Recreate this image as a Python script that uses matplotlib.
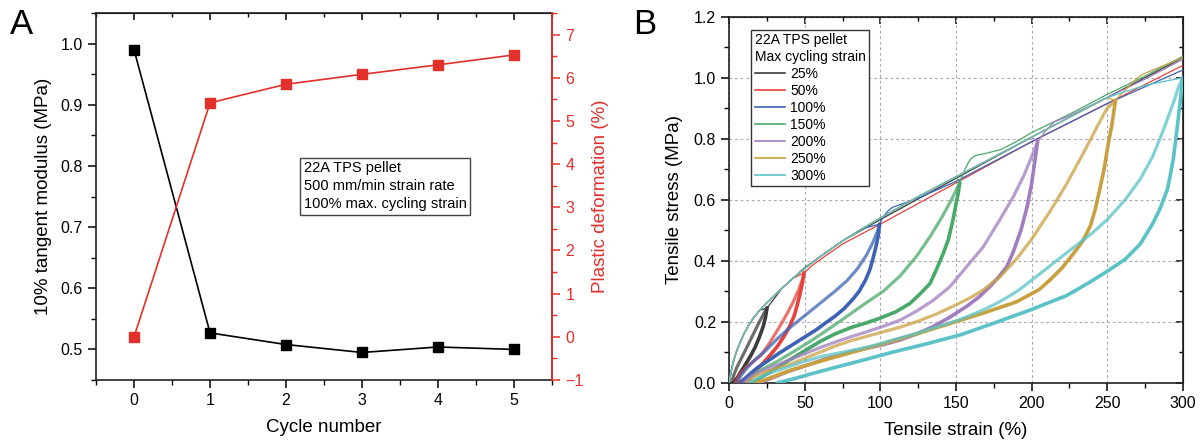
import matplotlib
matplotlib.use("Agg")
import matplotlib.pyplot as plt
from matplotlib.lines import Line2D
from matplotlib.ticker import MultipleLocator, FormatStrFormatter

plt.rcParams['font.family'] = ['Liberation Sans', 'DejaVu Sans']

# ---------------- Panel A data ----------------
cycles = [0, 1, 2, 3, 4, 5]
modulus = [0.99, 0.527, 0.508, 0.495, 0.504, 0.500]
plastic = [0.0, 5.42, 5.85, 6.08, 6.30, 6.53]

# ---------------- Panel B data ----------------
levels = ['25%', '50%', '100%', '150%', '200%', '250%', '300%']
colors = ['#3c3c3c', '#e5443d', '#3e63b5', '#4aa96a', '#a07dc0', '#c9a040', '#5bc2c7']

# shared virgin loading envelope
env_strain = [0, 1, 2, 3, 5, 7, 10, 13, 16, 20, 25, 30, 35, 42, 50, 60, 75, 88, 100, 125, 150,
              175, 200, 225, 250, 275, 300]
env_stress = [0, 0.03, 0.055, 0.075, 0.105, 0.13, 0.163, 0.19, 0.212, 0.237, 0.263, 0.287, 0.31,
              0.342, 0.375, 0.413, 0.465, 0.505, 0.54, 0.61, 0.675, 0.74, 0.805, 0.87, 0.935,
              0.975, 1.0]

peak_strain = [25, 49.5, 99.5, 152.5, 204, 255.5, 300]
peak_stress = [0.245, 0.36, 0.52, 0.655, 0.79, 0.925, 1.0]

# unloading curves (lower, dense bundle)
unload_25_s = [25, 24, 22.5, 20, 17, 14, 11, 8, 5.5, 3]
unload_25_y = [0.245, 0.215, 0.185, 0.15, 0.115, 0.087, 0.062, 0.038, 0.018, 0]
unload_50_s = [49.5, 48.5, 47, 45, 43, 40, 36, 32, 27, 21, 16, 11, 8, 6]
unload_50_y = [0.36, 0.33, 0.295, 0.255, 0.22, 0.185, 0.15, 0.12, 0.09, 0.057, 0.035, 0.015, 0.005, 0]
unload_100_s = [99.5, 98.5, 97, 95, 93, 90, 86, 82, 76, 70, 64, 58, 50, 42, 34, 26, 19, 14, 10, 8]
unload_100_y = [0.52, 0.48, 0.445, 0.405, 0.37, 0.335, 0.3, 0.275, 0.243, 0.218, 0.197, 0.175,
                0.15, 0.125, 0.1, 0.073, 0.05, 0.03, 0.012, 0]
unload_150_s = [152.5, 151.5, 150, 148, 145, 141.6, 137, 132.8, 126, 119.6, 110, 100, 90, 80, 70,
                60, 50, 40, 30, 22, 16]
unload_150_y = [0.655, 0.62, 0.585, 0.533, 0.47, 0.424, 0.37, 0.325, 0.29, 0.26, 0.232, 0.212,
                0.195, 0.18, 0.16, 0.135, 0.105, 0.075, 0.045, 0.02, 0]
unload_200_s = [204, 203, 202, 200, 197, 193, 188, 183.6, 178, 172.5, 165, 157, 146, 135, 124,
                113, 102, 91, 80, 65, 50, 38, 28, 20]
unload_200_y = [0.79, 0.755, 0.72, 0.65, 0.575, 0.5, 0.43, 0.38, 0.345, 0.315, 0.28, 0.25, 0.215,
                0.184, 0.16, 0.14, 0.125, 0.113, 0.1, 0.08, 0.055, 0.035, 0.015, 0]
unload_250_s = [255.5, 254.5, 253, 251, 248, 245, 242, 239, 234, 228, 220, 212, 205, 190, 168,
                150, 124, 102, 80, 60, 40, 25, 18]
unload_250_y = [0.925, 0.89, 0.84, 0.79, 0.7, 0.63, 0.565, 0.515, 0.465, 0.425, 0.375, 0.336, 0.305,
                0.265, 0.228, 0.2, 0.16, 0.128, 0.098, 0.07, 0.04, 0.012, 0]
unload_300_s = [300, 299.5, 299, 298, 296, 294, 292, 290, 285, 280, 272, 262, 250, 237, 223, 210,
                200, 190, 175, 153, 131, 108, 87, 70, 55, 42, 32]
unload_300_y = [1.0, 0.975, 0.95, 0.905, 0.82, 0.74, 0.685, 0.635, 0.57, 0.52, 0.455, 0.405, 0.365,
                0.325, 0.285, 0.26, 0.24, 0.222, 0.195, 0.157, 0.128, 0.1, 0.072, 0.05, 0.03,
                0.012, 0]

# reloading curves (upper, spread bundle)
reload_25_s = [1.5, 3, 5, 8, 11, 14, 17, 20, 23, 25]
reload_25_y = [0, 0.025, 0.05, 0.08, 0.11, 0.14, 0.17, 0.2, 0.228, 0.245]
reload_50_s = [4, 7, 11, 16, 21, 26, 32, 37, 42, 46, 48.5, 49.5]
reload_50_y = [0, 0.027, 0.05, 0.07, 0.09, 0.125, 0.173, 0.215, 0.262, 0.305, 0.34, 0.36]
reload_100_s = [5, 8, 12, 17, 24, 32, 40, 50, 60, 70, 78, 85, 91, 95, 98, 99.5]
reload_100_y = [0, 0.025, 0.05, 0.075, 0.105, 0.145, 0.18, 0.22, 0.26, 0.3, 0.335, 0.375, 0.42,
                0.46, 0.495, 0.52]
reload_150_s = [12, 15, 20, 30, 42, 55, 67, 80, 90, 102, 113, 124, 133, 141, 147, 150.5, 152.5]
reload_150_y = [0, 0.02, 0.04, 0.065, 0.1, 0.14, 0.18, 0.225, 0.26, 0.3, 0.35, 0.415, 0.48, 0.545,
                0.6, 0.635, 0.655]
reload_200_s = [10, 14, 20, 30, 40, 50, 60, 70, 80, 91, 102, 113, 124, 135, 146, 157, 168, 179,
                188, 195, 200, 204]
reload_200_y = [0, 0.02, 0.035, 0.055, 0.075, 0.095, 0.115, 0.133, 0.15, 0.167, 0.185, 0.205,
                0.235, 0.27, 0.315, 0.38, 0.445, 0.534, 0.61, 0.68, 0.74, 0.79]
reload_250_s = [12, 16, 20, 30, 40, 50, 60, 70, 80, 91, 102, 113, 124, 137, 150, 160, 168, 179,
                190, 200, 212, 223, 234, 244, 250, 255.5]
reload_250_y = [0, 0.018, 0.028, 0.045, 0.06, 0.08, 0.1, 0.12, 0.137, 0.152, 0.167, 0.182, 0.2,
                0.225, 0.255, 0.28, 0.304, 0.347, 0.405, 0.47, 0.56, 0.65, 0.75, 0.845, 0.9, 0.925]
reload_300_s = [14, 17, 20, 28, 38, 48, 60, 73, 87, 98, 108, 120, 131, 142, 153, 164, 175, 184,
                192, 205, 223, 240, 250, 262, 272, 280, 285, 290, 294, 297, 300]
reload_300_y = [0, 0.01, 0.017, 0.033, 0.05, 0.067, 0.085, 0.098, 0.112, 0.125, 0.14, 0.156, 0.173,
                0.19, 0.208, 0.23, 0.255, 0.28, 0.305, 0.355, 0.425, 0.49, 0.534, 0.6, 0.668,
                0.74, 0.8, 0.865, 0.92, 0.965, 1.0]

# final pull to 300 %
pull_25_s = [25, 35, 50, 75, 100, 150, 200, 250, 300]
pull_25_y = [0.245, 0.31, 0.378, 0.465, 0.535, 0.67, 0.805, 0.935, 1.065]
pull_50_s = [49.5, 55, 62, 75, 100, 150, 200, 250, 300]
pull_50_y = [0.36, 0.385, 0.41, 0.455, 0.52, 0.655, 0.79, 0.915, 1.04]
pull_100_s = [99.5, 102, 105, 108, 112, 125, 150, 200, 250, 300]
pull_100_y = [0.52, 0.545, 0.563, 0.575, 0.582, 0.605, 0.66, 0.79, 0.915, 1.025]
pull_150_s = [152.5, 154, 156, 158, 160, 163, 170, 180, 192, 200, 225, 250, 275, 300]
pull_150_y = [0.655, 0.675, 0.7, 0.72, 0.735, 0.745, 0.752, 0.765, 0.796, 0.82, 0.88, 0.945,
              1.005, 1.07]
pull_200_s = [204, 207, 210, 215, 225, 250, 275, 300]
pull_200_y = [0.79, 0.81, 0.83, 0.855, 0.875, 0.935, 0.995, 1.06]
pull_250_s = [255.5, 259, 263, 268, 273, 285, 300]
pull_250_y = [0.925, 0.945, 0.965, 0.99, 1.01, 1.035, 1.065]
pull_300_s = [300]
pull_300_y = [1.0]

unloads = [(unload_25_s, unload_25_y), (unload_50_s, unload_50_y), (unload_100_s, unload_100_y),
           (unload_150_s, unload_150_y), (unload_200_s, unload_200_y), (unload_250_s, unload_250_y),
           (unload_300_s, unload_300_y)]
reloads = [(reload_25_s, reload_25_y), (reload_50_s, reload_50_y), (reload_100_s, reload_100_y),
           (reload_150_s, reload_150_y), (reload_200_s, reload_200_y), (reload_250_s, reload_250_y),
           (reload_300_s, reload_300_y)]
pulls = [(pull_25_s, pull_25_y), (pull_50_s, pull_50_y), (pull_100_s, pull_100_y),
         (pull_150_s, pull_150_y), (pull_200_s, pull_200_y), (pull_250_s, pull_250_y),
         (pull_300_s, pull_300_y)]

# ---------------- Figure ----------------
fig = plt.figure(figsize=(12.02, 4.43), dpi=100)
SPINE = '#222222'
RED = '#e2302b'

# ===== Panel A =====
axA = fig.add_axes([0.0799, 0.1422, 0.3794, 0.8284])
axA.plot(cycles, modulus, color='black', marker='s', ms=7, lw=1.2, zorder=3)
axA.set_xlim(-0.5, 5.5)
axA.set_ylim(0.45, 1.05)
axA.xaxis.set_major_locator(MultipleLocator(1))
axA.xaxis.set_minor_locator(MultipleLocator(0.5))
axA.yaxis.set_major_locator(MultipleLocator(0.1))
axA.yaxis.set_minor_locator(MultipleLocator(0.05))
axA.tick_params(which='major', direction='out', length=6, width=1.1, labelsize=11.5)
axA.tick_params(which='minor', direction='out', length=3.5, width=1.0)
axA.set_xlabel('Cycle number', fontsize=13.5, labelpad=8)
axA.set_ylabel('10% tangent modulus (MPa)', fontsize=13.5, labelpad=6)
for sp in axA.spines.values():
    sp.set_linewidth(1.2)
    sp.set_color(SPINE)
topA = axA.secondary_xaxis('top')
topA.xaxis.set_major_locator(MultipleLocator(1))
topA.xaxis.set_minor_locator(MultipleLocator(0.5))
topA.tick_params(which='major', direction='in', length=5, width=1.1, labeltop=False)
topA.tick_params(which='minor', direction='in', length=3, width=1.0)

axA2 = axA.twinx()
axA2.plot(cycles, plastic, color=RED, marker='s', ms=7, lw=1.2, zorder=3)
axA2.set_ylim(-1, 7.5)
axA2.yaxis.set_major_locator(MultipleLocator(1))
axA2.yaxis.set_minor_locator(MultipleLocator(0.5))
axA2.tick_params(which='major', direction='out', length=6, width=1.1, labelsize=11.5,
                 colors=RED)
axA2.tick_params(which='minor', direction='out', length=3.5, width=1.0, colors=RED)
axA2.set_ylabel('Plastic deformation (%)', fontsize=13.5, color=RED, labelpad=6)
axA2.spines['right'].set_color(RED)
axA2.spines['right'].set_linewidth(1.2)
for k in ['left', 'top', 'bottom']:
    axA2.spines[k].set_visible(False)

axA.text(0.455, 0.596, '22A TPS pellet\n500 mm/min strain rate\n100% max. cycling strain',
         transform=axA.transAxes, ha='left', va='top', fontsize=10.5, linespacing=1.35,
         bbox=dict(boxstyle='square,pad=0.25', facecolor='white', edgecolor='#444444', lw=1.0))

fig.text(0.018, 0.945, 'A', fontsize=25, ha='center', va='center')

# ===== Panel B =====
axB = fig.add_axes([0.6067, 0.1361, 0.3772, 0.8262])
for i, lvl in enumerate(levels):
    c = colors[i]
    # first loading along the envelope up to the peak
    ls = [s for s in env_strain if s < peak_strain[i]] + [peak_strain[i]]
    ly = [y for s, y in zip(env_strain, env_stress) if s < peak_strain[i]] + [peak_stress[i]]
    axB.plot(ls, ly, color=c, lw=0.9, zorder=2 + i)
    us, uy = unloads[i]
    axB.plot(us, uy, color=c, lw=2.6, zorder=2 + i, solid_capstyle='round',
             solid_joinstyle='round')
    rs, ry = reloads[i]
    axB.plot(rs, ry, color=c, lw=2.3, alpha=0.75, zorder=2 + i, solid_joinstyle='round')
    ps, py = pulls[i]
    axB.plot(ps, py, color=c, lw=0.9, zorder=2 + i)

axB.set_xlim(0, 300)
axB.set_ylim(0, 1.2)
axB.xaxis.set_major_locator(MultipleLocator(50))
axB.xaxis.set_minor_locator(MultipleLocator(25))
axB.yaxis.set_major_locator(MultipleLocator(0.2))
axB.yaxis.set_minor_locator(MultipleLocator(0.1))
axB.yaxis.set_major_formatter(FormatStrFormatter('%.1f'))
axB.grid(True, which='major', linestyle=(0, (2.5, 2.5)), color='#aaaaaa', lw=0.8)
axB.set_axisbelow(True)
axB.tick_params(which='major', direction='out', length=6, width=1.1, labelsize=11.5)
axB.tick_params(which='minor', direction='out', length=3.5, width=1.0)
axB.set_xlabel('Tensile strain (%)', fontsize=13.5, labelpad=8)
axB.set_ylabel('Tensile stress (MPa)', fontsize=13.5, labelpad=8)
for sp in axB.spines.values():
    sp.set_linewidth(1.2)
    sp.set_color(SPINE)
topB = axB.secondary_xaxis('top')
topB.xaxis.set_major_locator(MultipleLocator(50))
topB.xaxis.set_minor_locator(MultipleLocator(25))
topB.tick_params(which='major', direction='in', length=5, width=1.1, labeltop=False)
topB.tick_params(which='minor', direction='in', length=3, width=1.0)
rightB = axB.secondary_yaxis('right')
rightB.yaxis.set_major_locator(MultipleLocator(0.2))
rightB.yaxis.set_minor_locator(MultipleLocator(0.1))
rightB.tick_params(which='major', direction='in', length=5, width=1.1, labelright=False)
rightB.tick_params(which='minor', direction='in', length=3, width=1.0)

handles = [Line2D([0], [0], color=c, lw=1.2) for c in colors]
leg = axB.legend(handles, levels, title='22A TPS pellet\nMax cycling strain',
                 loc='upper left', bbox_to_anchor=(0.049, 0.964), borderaxespad=0,
                 fontsize=10, title_fontsize=10, alignment='left', frameon=True,
                 fancybox=False, edgecolor='#333333', framealpha=1, handlelength=2.2,
                 handletextpad=0.35, labelspacing=0.22, borderpad=0.25)
leg.get_frame().set_linewidth(1.0)
leg.set_zorder(20)

fig.text(0.536, 0.945, 'B', fontsize=25, ha='center', va='center')

fig.savefig('out.png', dpi=100)
